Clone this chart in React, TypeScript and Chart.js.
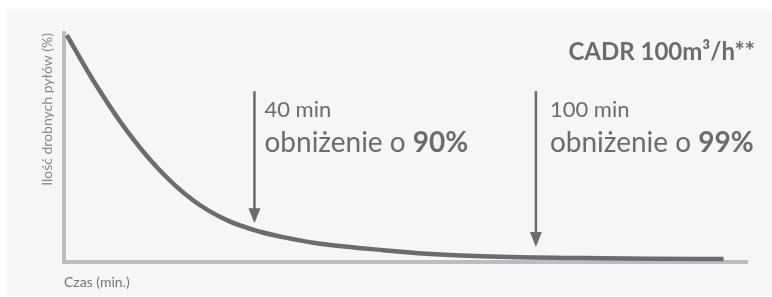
import React, { useEffect, useRef } from "react";
import { Chart, registerables } from "chart.js";

Chart.register(...registerables);

// curve: time (min) vs share of fine dust (%)
const times = [0, 5.6, 12.7, 19.8, 26.9, 34.1, 41.2, 46.1, 53.3, 67.4, 81.7, 94.5, 110, 124, 140];
const dust = [100, 79.9, 57.6, 39.7, 26.3, 17.4, 12.2, 9.8, 7.1, 4.0, 1.8, 0.9, 0.45, 0.15, 0];

// annotations
const markTimes = [40, 100];
const markTop = [75, 75];
const markTip = [16, 5.4];
const markLabels = ["40 min", "100 min"];
const markReductions = ["90%", "99%"];
const reductionPrefix = "obniżenie o ";
const cadrLabel = "CADR 100m³/h**";
const xTitle = "Czas (min.)";
const yTitle = "Ilość drobnych pyłów (%)";

const INK = "#6b6b70";
const AXIS = "#bdbdc1";
const FONT = "Lato, 'Open Sans', sans-serif";

const annotationPlugin = {
  id: "annotations",
  afterDatasetsDraw(chart: any) {
    const { ctx, scales, chartArea } = chart;
    const xs = scales.x;
    const ys = scales.y;
    const textOffsets = [10, 14];
    ctx.save();
    markTimes.forEach((t, i) => {
      const x = xs.getPixelForValue(t);
      const yTop = ys.getPixelForValue(markTop[i]);
      const yTip = ys.getPixelForValue(markTip[i]);
      const headLen = 15;
      const headW = 12;
      ctx.strokeStyle = INK;
      ctx.fillStyle = INK;
      ctx.lineWidth = 2.5;
      ctx.beginPath();
      ctx.moveTo(x, yTop);
      ctx.lineTo(x, yTip - headLen + 2);
      ctx.stroke();
      ctx.beginPath();
      ctx.moveTo(x - headW / 2, yTip - headLen);
      ctx.lineTo(x + headW / 2, yTip - headLen);
      ctx.lineTo(x, yTip);
      ctx.closePath();
      ctx.fill();

      const tx = x + textOffsets[i];
      ctx.textAlign = "left";
      ctx.textBaseline = "alphabetic";
      ctx.font = `400 22px ${FONT}`;
      ctx.fillText(markLabels[i], tx, yTop + 26);
      ctx.font = `400 28px ${FONT}`;
      ctx.fillText(reductionPrefix, tx, yTop + 61);
      const w = ctx.measureText(reductionPrefix).width;
      ctx.font = `700 28px ${FONT}`;
      ctx.fillText(markReductions[i], tx + w, yTop + 61);
    });
    ctx.font = `700 24px ${FONT}`;
    ctx.textAlign = "right";
    ctx.fillStyle = INK;
    ctx.fillText(cadrLabel, chartArea.right + 8, chartArea.top + 27);
    ctx.restore();
  },
};

export default function App() {
  const ref = useRef<HTMLCanvasElement | null>(null);
  useEffect(() => {
    if (!ref.current) return;
    const chart = new Chart(ref.current, {
      type: "line",
      data: {
        datasets: [
          {
            data: times.map((t, i) => ({ x: t, y: dust[i] })),
            borderColor: INK,
            borderWidth: 4.5,
            pointRadius: 0,
            cubicInterpolationMode: "monotone",
            fill: false,
          },
        ],
      },
      options: {
        animation: false,
        responsive: false,
        events: [],
        layout: { padding: { left: 39, top: 33, right: 25, bottom: 6 } },
        plugins: { legend: { display: false }, tooltip: { enabled: false } },
        scales: {
          x: {
            type: "linear",
            min: -0.6,
            max: 145,
            grid: { display: false, drawTicks: false },
            ticks: { display: false },
            border: { display: true, color: AXIS, width: 4 },
            title: {
              display: true,
              text: xTitle,
              align: "start",
              color: "#777777",
              font: { family: FONT, size: 14 },
              padding: { top: 0, bottom: 0 },
            },
            afterFit: (s: any) => {
              s.height = 29;
            },
          },
          y: {
            min: -1.3,
            max: 101,
            grid: { display: false, drawTicks: false },
            ticks: { display: false },
            border: { display: true, color: AXIS, width: 4 },
            title: {
              display: true,
              text: yTitle,
              align: "end",
              color: "#888888",
              font: { family: FONT, size: 14 },
              padding: { top: 0, bottom: 0 },
            },
            afterFit: (s: any) => {
              s.width = 25;
            },
          },
        },
      },
      plugins: [annotationPlugin],
    } as any);
    return () => chart.destroy();
  }, []);

  return (
    <div style={{ position: "absolute", left: 0, top: 0, width: 772, height: 297 }}>
      <div
        style={{
          position: "absolute",
          left: 7,
          top: 9,
          width: 765,
          height: 287,
          background: "#f6f6f6",
        }}
      />
      <canvas
        ref={ref}
        width={772}
        height={297}
        style={{ position: "absolute", left: 0, top: 0, width: 772, height: 297 }}
      />
    </div>
  );
}
